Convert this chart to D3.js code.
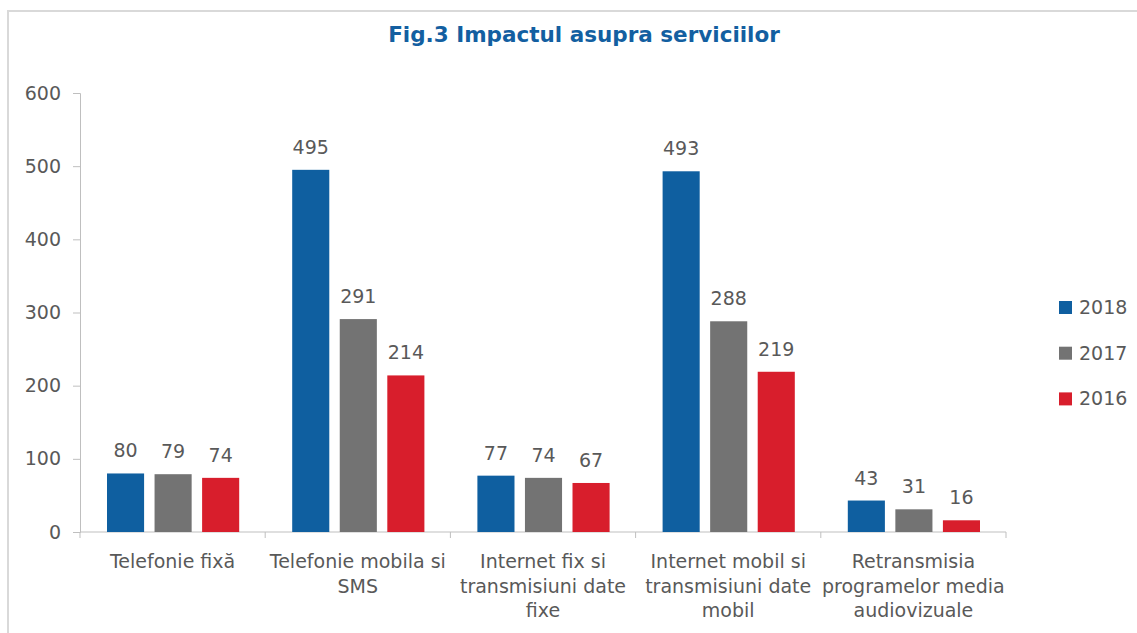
<!DOCTYPE html>
<html>
<head>
<meta charset="utf-8">
<script src="https://cdn.jsdelivr.net/npm/d3@7"></script>
<style>
  body { margin: 0; background: #fff; }
  svg { display: block; }
</style>
</head>
<body>
<div id="container"></div>
<script>
// Data
var title = "Fig.3 Impactul asupra serviciilor";
var categories = ["Telefonie fixă", "Telefonie mobila si SMS", "Internet fix si transmisiuni date fixe", "Internet mobil si transmisiuni date mobil", "Retransmisia programelor media audiovizuale"];
var categoryLines = [
  ["Telefonie fixă"],
  ["Telefonie mobila si", "SMS"],
  ["Internet fix si", "transmisiuni date", "fixe"],
  ["Internet mobil si", "transmisiuni date", "mobil"],
  ["Retransmisia", "programelor media", "audiovizuale"]
];
var seriesNames = ["2018", "2017", "2016"];
var values2018 = [80, 495, 77, 493, 43];
var values2017 = [79, 291, 74, 288, 31];
var values2016 = [74, 214, 67, 219, 16];
var yTicks = [0, 100, 200, 300, 400, 500, 600];
var colors = ["#0f5fa0", "#737373", "#d81e2c"];

var W = 1137, H = 633;
var x0 = 80, x1 = 1006;		// plot left/right
var yTop = 93, yBot = 532;	// plot top/bottom
var textColor = "#595959";
var font = "DejaVu Sans, Verdana, sans-serif";
var fs = 19;

var series = [values2018, values2017, values2016];

var svg = d3.select("#container").append("svg")
  .attr("width", W)
  .attr("height", H);

// Frame
svg.append("rect")
  .attr("x", 8).attr("y", 11)
  .attr("width", W).attr("height", H)
  .attr("fill", "none")
  .attr("stroke", "#d9d9d9")
  .attr("stroke-width", 2);

// Title
svg.append("text")
  .attr("x", 584).attr("y", 42)
  .attr("text-anchor", "middle")
  .attr("font-family", font)
  .attr("font-weight", "bold")
  .attr("font-size", 21.5)
  .attr("fill", "#135fa1")
  .text(title);

// Scales
var x = d3.scaleBand()
  .domain(categories)
  .range([x0, x1])
  .paddingInner(0).paddingOuter(0);

var xs = d3.scaleBand()
  .domain(seriesNames)
  .range([27, x.bandwidth() - 26])
  .paddingInner(0.22).paddingOuter(0);

var y = d3.scaleLinear()
  .domain([0, 600])
  .range([yBot, yTop]);

// Y axis
var yAxis = svg.append("g")
  .attr("transform", "translate(" + x0 + ",0)")
  .call(d3.axisLeft(y).tickValues(yTicks).tickSize(7).tickPadding(12));
yAxis.select(".domain").attr("stroke", "#bfbfbf");
yAxis.selectAll(".tick line").attr("stroke", "#bfbfbf");
yAxis.selectAll(".tick text")
  .attr("font-family", font)
  .attr("font-size", fs)
  .attr("fill", textColor);

// X axis line and ticks
svg.append("line")
  .attr("x1", x0).attr("x2", x1)
  .attr("y1", yBot).attr("y2", yBot)
  .attr("stroke", "#bfbfbf");

var bounds = categories.map(function(c) { return x(c); }).concat([x1]);
svg.selectAll("line.xtick")
  .data(bounds)
  .enter()
  .append("line")
  .attr("class", "xtick")
  .attr("x1", function(d) { return d; })
  .attr("x2", function(d) { return d; })
  .attr("y1", yBot).attr("y2", yBot + 6)
  .attr("stroke", "#bfbfbf");

// Category labels
var catG = svg.selectAll("g.cat")
  .data(categories)
  .enter()
  .append("g")
  .attr("class", "cat")
  .attr("transform", function(d) {
    return "translate(" + (x(d) + x.bandwidth() / 2) + ",0)";
  });

catG.append("text")
  .attr("text-anchor", "middle")
  .attr("font-family", font)
  .attr("font-size", fs)
  .attr("fill", textColor)
  .selectAll("tspan")
  .data(function(d, i) { return categoryLines[i]; })
  .enter()
  .append("tspan")
  .attr("x", 0)
  .attr("y", function(d, j) { return 568 + j * 24.5; })
  .text(function(d) { return d; });

// Bars
var groups = svg.selectAll("g.series")
  .data(series)
  .enter()
  .append("g")
  .attr("class", "series")
  .attr("fill", function(d, i) { return colors[i]; });

groups.each(function(vals, si) {
  var g = d3.select(this);
  g.selectAll("rect")
    .data(vals)
    .enter()
    .append("rect")
    .attr("x", function(d, i) { return x(categories[i]) + xs(seriesNames[si]); })
    .attr("y", function(d) { return y(d); })
    .attr("width", xs.bandwidth())
    .attr("height", function(d) { return yBot - y(d); });

  g.selectAll("text")
    .data(vals)
    .enter()
    .append("text")
    .attr("x", function(d, i) { return x(categories[i]) + xs(seriesNames[si]) + xs.bandwidth() / 2; })
    .attr("y", function(d) { return y(d) - 16; })
    .attr("text-anchor", "middle")
    .attr("font-family", font)
    .attr("font-size", fs)
    .attr("fill", textColor)
    .text(function(d) { return d; });
});

// Legend
var legend = svg.selectAll("g.legend")
  .data(seriesNames)
  .enter()
  .append("g")
  .attr("class", "legend")
  .attr("transform", function(d, i) { return "translate(1059," + (301 + i * 45.7) + ")"; });

legend.append("rect")
  .attr("width", 13).attr("height", 13)
  .attr("fill", function(d, i) { return colors[i]; });

legend.append("text")
  .attr("x", 20).attr("y", 13)
  .attr("font-family", font)
  .attr("font-size", fs)
  .attr("fill", textColor)
  .text(function(d) { return d; });
</script>
</body>
</html>
